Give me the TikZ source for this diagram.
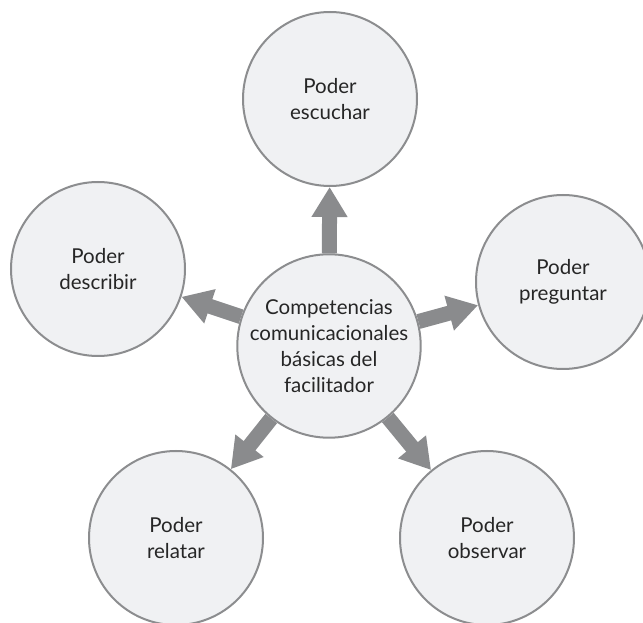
\documentclass[tikz,border=0pt]{standalone}
\usepackage{fontspec}
\setmainfont{Lato}
\usetikzlibrary{arrows.meta,positioning}
\definecolor{circfill}{RGB}{240,241,243}
\definecolor{circline}{RGB}{140,141,143}
\definecolor{arrowgray}{RGB}{138,139,141}

\begin{document}
\begin{tikzpicture}[x=1pt,y=1pt]
      \tikzstyle{competencia} = [circle, draw=circline, line width=2pt, fill=circfill, minimum size=174pt, inner sep=0pt, align=center, text=black!85, font=\fontsize{20.5}{26}\selectfont]
      \tikzstyle{flecha} = [arrowgray, line width=15pt, -{Triangle[width=34pt,length=30pt]}]

      \useasboundingbox (0,0) rectangle (643,622);
      \clip (0,0) rectangle (643,622);

      \node[competencia] (centro) at (329,276) {Competencias\\comunicacionales\\básicas del\\facilitador};
      \node[competencia] (escuchar) at (330,523) {Poder\\escuchar};
      \node[competencia] (describir) at (98,353) {Poder\\describir};
      \node[competencia] (preguntar) at (563,340) {Poder\\preguntar};
      \node[competencia] (relatar) at (176,84) {Poder\\relatar};
      \node[competencia] (observar) at (487,84) {Poder\\observar};

      \draw[flecha] (centro) -- (escuchar);
      \draw[flecha] (centro) -- (describir);
      \draw[flecha] (centro) -- (preguntar);
      \draw[flecha] (centro) -- (relatar);
      \draw[flecha] (centro) -- (observar);
    \end{tikzpicture}
\end{document}
